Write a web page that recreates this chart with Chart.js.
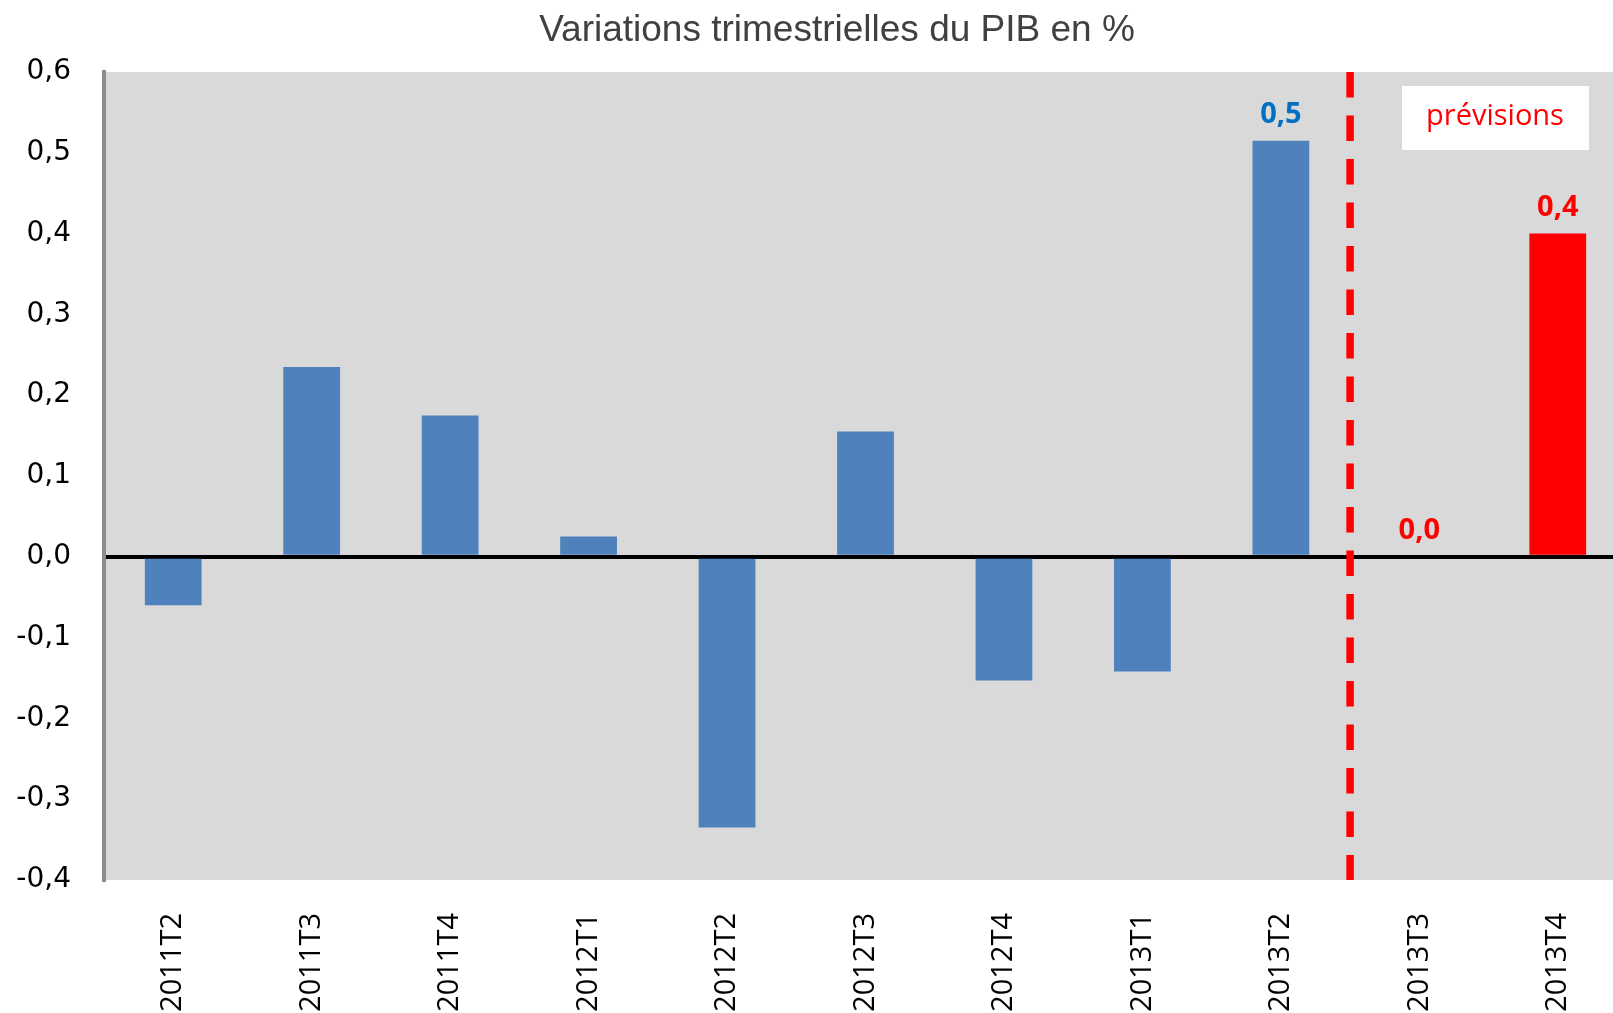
<!DOCTYPE html>
<html>
<head>
<meta charset="utf-8">
<script src="https://cdn.jsdelivr.net/npm/chart.js@4/dist/chart.umd.min.js"></script>
<style>
    body { margin: 0; background: #fff; overflow: hidden; }
    #wrap { width: 1640px; height: 1013px; }
</style>
</head>
<body>
<div id="wrap"><canvas id="pib-chart"></canvas></div>
<script>
// Data
const quarters = ['2011T2', '2011T3', '2011T4', '2012T1', '2012T2', '2012T3', '2012T4', '2013T1', '2013T2', '2013T3', '2013T4'];
const gdpChange = [-0.06, 0.235, 0.175, 0.025, -0.335, 0.155, -0.153, -0.142, 0.515, 0.0, 0.4];
const labelText = ['', '', '', '', '', '', '', '', '0,5', '0,0', '0,4'];
const yTicks = [-0.4, -0.3, -0.2, -0.1, 0.0, 0.1, 0.2, 0.3, 0.4, 0.5, 0.6];
const forecastFrom = 9;

const blue = '#4f81bd';
const red = '#ff0000';
const barColors = quarters.map((q, i) => i >= forecastFrom ? red : blue);
const labelColors = quarters.map((q, i) => i >= forecastFrom ? red : '#0070c0');

function fmt(v) {
    if (Math.abs(v) < 1e-9) v = 0;
    return v.toFixed(1).replace('.', ',');
}

// Gray plot background, title, forecast marker, value labels
const decorations = {
    id: 'decorations',
    beforeDraw(chart) {
        const { ctx, chartArea: a } = chart;
        ctx.save();
        ctx.fillStyle = '#d9d9d9';
        ctx.fillRect(a.left, a.top, a.right - a.left, a.bottom - a.top);
        ctx.restore();
    },
    afterDraw(chart) {
        const { ctx, chartArea: a } = chart;
        const x = chart.scales.x;
        ctx.save();

        // title
        ctx.fillStyle = '#404040';
        ctx.font = '37px "Liberation Sans", Arial, sans-serif';
        ctx.textAlign = 'center';
        ctx.textBaseline = 'middle';
        ctx.fillText('Variations trimestrielles du PIB en %', 837, 31);

        // dashed separator before forecasts
        const sx = (x.getPixelForValue(forecastFrom - 1) + x.getPixelForValue(forecastFrom)) / 2;
        ctx.strokeStyle = red;
        ctx.lineWidth = 7.5;
        ctx.setLineDash([25.5, 18]);
        ctx.beginPath();
        ctx.moveTo(sx, a.top);
        ctx.lineTo(sx, a.bottom);
        ctx.stroke();
        ctx.setLineDash([]);

        // "prévisions" box
        ctx.fillStyle = '#ffffff';
        ctx.fillRect(1402, 86, 187, 64);
        ctx.fillStyle = red;
        ctx.font = '29px "Open Sans", sans-serif';
        ctx.fillText('prévisions', 1495, 117);

        // value labels
        const meta = chart.getDatasetMeta(0);
        ctx.font = 'bold 29px "Open Sans", sans-serif';
        meta.data.forEach((bar, i) => {
            if (!labelText[i]) return;
            ctx.fillStyle = labelColors[i];
            ctx.fillText(labelText[i], bar.x, bar.y - 26);
        });
        ctx.restore();
    }
};

const chartCtx = document.getElementById('pib-chart').getContext('2d');
new Chart(chartCtx, {
    type: 'bar',
    data: {
        labels: quarters,
        datasets: [{
            data: gdpChange,
            backgroundColor: barColors,
            borderWidth: 0,
            categoryPercentage: 1,
            barPercentage: 0.41
        }]
    },
    options: {
        responsive: true,
        maintainAspectRatio: false,
        animation: false,
        layout: { padding: { top: 72, right: 13, left: 0, bottom: 0 } },
        plugins: {
            legend: { display: false },
            title: { display: false },
            tooltip: { enabled: false }
        },
        scales: {
            x: {
                afterFit(scale) { scale.height = 133; },
                grid: { display: false },
                border: { display: false },
                ticks: {
                    autoSkip: false,
                    minRotation: 90,
                    maxRotation: 90,
                    padding: 25,
                    color: '#000',
                    font: { family: '"Open Sans", sans-serif', size: 29 }
                }
            },
            y: {
                z: 1,
                min: -0.4,
                max: 0.6,
                afterFit(scale) { scale.width = 104; },
                afterBuildTicks(scale) { scale.ticks = yTicks.map(v => ({ value: v })); },
                border: { color: '#8c8c8c', width: 4 },
                grid: {
                    drawTicks: false,
                    lineWidth: 4,
                    color: c => (c.tick && Math.abs(c.tick.value) < 1e-9) ? '#000' : 'rgba(0,0,0,0)'
                },
                ticks: {
                    padding: 33,
                    color: '#000',
                    font: { family: '"DejaVu Sans", sans-serif', size: 28 },
                    callback: v => fmt(v)
                }
            }
        }
    },
    plugins: [decorations]
});
</script>
</body>
</html>
